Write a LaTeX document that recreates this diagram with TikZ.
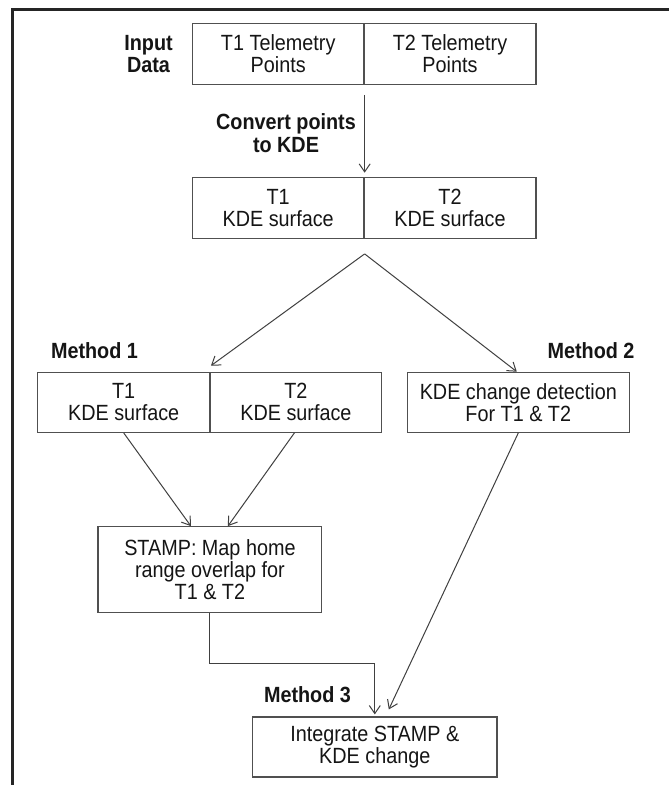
\documentclass[tikz,border=0pt]{standalone}
\usepackage{fontspec}
\setmainfont{Liberation Sans}[FakeStretch=0.9]
\usetikzlibrary{arrows.meta}
\definecolor{boxline}{HTML}{505050}
\definecolor{arrline}{HTML}{404040}
\definecolor{txt}{HTML}{151515}
\definecolor{frame}{HTML}{252525}
\tikzset{
  halfbox/.style={draw=boxline, line width=1.2pt, minimum height=61pt, inner sep=0pt,
    align=center, text=txt, font=\fontsize{22}{22}\selectfont},
  lbl/.style={align=center, text=txt, inner sep=0pt, font=\fontsize{22}{22.5}\selectfont\bfseries},
  arr/.style={draw=arrline, line width=1pt, -{Straight Barb[length=8pt,width=11pt]}},
  frameline/.style={draw=frame, line width=2.6pt}
}
\begin{document}
\begin{tikzpicture}[x=1pt,y=-1pt]
\useasboundingbox (0,0) rectangle (669,785);
\fill[white] (0,0) rectangle (669,785);
% frame
\draw[frameline] (669,9.3) -- (12.2,9.3) -- (12.2,785);

% input data
\node[halfbox, minimum width=171.7pt] (in1) at (278.2,53.8) {T1 Telemetry\\Points};
\node[halfbox, minimum width=172pt] (in2) at (450,53.8) {T2 Telemetry\\Points};
\node[lbl] (inlbl) at (148.5,54) {Input\\Data};

% KDE surfaces
\node[lbl] (conv) at (286,133) {Convert points\\to KDE};
\node[halfbox, minimum width=171.7pt] (kd1) at (278.2,207.8) {T1\\KDE surface};
\node[halfbox, minimum width=172pt] (kd2) at (450,207.8) {T2\\KDE surface};

% method 1 and 2
\node[lbl] (m1lbl) at (94.5,351) {Method 1};
\node[lbl] (m2lbl) at (591,351) {Method 2};
\node[halfbox, minimum width=172.7pt, minimum height=60pt] (m1a) at (123.7,402.3) {T1\\KDE surface};
\node[halfbox, minimum width=171.7pt, minimum height=60pt] (m1b) at (295.9,402.3) {T2\\KDE surface};
\node[halfbox, minimum width=222pt, minimum height=60pt] (m2) at (518.3,402.3) {KDE change detection\\For T1 \& T2};

% STAMP
\node[halfbox, minimum width=223.7pt, minimum height=86pt] (stamp) at (209.9,569.7) {STAMP: Map home\\range overlap for\\T1 \& T2};

% method 3
\node[lbl] (m3lbl) at (307.5,695) {Method 3};
\node[halfbox, minimum width=244.4pt, minimum height=60pt] (integ) at (374.8,747) {Integrate STAMP \&\\KDE change};

% connectors
\draw[arr] ([yshift=-10pt]in1.south east) -- ([yshift=4pt]kd1.north east);
\coordinate (apex) at ([yshift=-15pt]kd1.south east);
\draw[arr] (apex) -- ([xshift=0.3pt,yshift=6pt]m1a.north east);
\draw[arr] (apex) -- ([xshift=-1.5pt]m2.north);
\draw[arr] (m1a.south) -- ([xshift=-19pt]stamp.north);
\draw[arr] ([xshift=-1.5pt]m1b.south) -- ([xshift=18pt]stamp.north);
\draw[arr] (m2.south) -- ([xshift=14pt,yshift=7pt]integ.north);
\draw[arr] (stamp.south) |- ([yshift=53pt]integ.north) -- ([yshift=2pt]integ.north);
\end{tikzpicture}
\end{document}
